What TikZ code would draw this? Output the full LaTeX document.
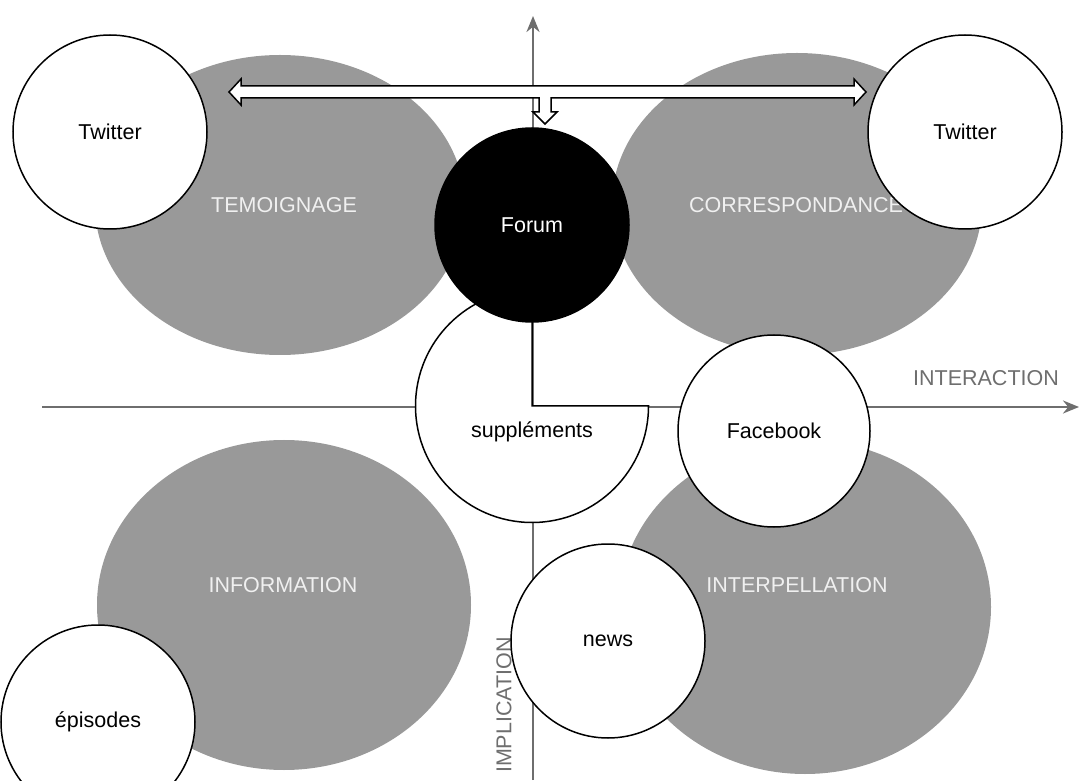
\documentclass[tikz,border=0pt]{standalone}
\usepackage{fontspec}
\setmainfont{Liberation Sans}
\usetikzlibrary{shapes.geometric,arrows.meta}
\definecolor{zonegray}{HTML}{999999}
\definecolor{axisgray}{HTML}{6E6E6E}
\begin{document}
\begin{tikzpicture}[x=1pt,y=1pt,
  every node/.style={font=\fontsize{21.5}{25}\selectfont},
  zone/.style={ellipse,fill=zonegray,inner sep=0pt},
  zonelabel/.style={text=white!94!black},
  media/.style={circle,draw=black,line width=1.5pt,fill=white,minimum size=194pt,inner sep=0pt},
  axis/.style={axisgray,line width=2.5pt,-{Stealth[length=16pt,width=13pt]}}]
\useasboundingbox (0,0) rectangle (1079,780);
\node[zone,minimum width=370pt,minimum height=300pt] (temoignage) at (280,575) {};
\node[zone,minimum width=370pt,minimum height=302pt] (correspondance) at (797,576) {};
\node[zone,minimum width=374pt,minimum height=330pt] (information) at (284,175) {};
\node[zone,minimum width=372pt,minimum height=334pt] (interpellation) at (805,173) {};
\node[zonelabel] at (284,575) {TEMOIGNAGE};
\node[zonelabel] at (796,575) {CORRESPONDANCE};
\node[zonelabel] at (283,195) {INFORMATION};
\coordinate (xstart) at (42,373);
\coordinate (xend) at (1079,373);
\coordinate (ystart) at (533,0);
\coordinate (yend) at (533,764);
\draw[axis] (xstart) -- (xend);
\draw[axis] (ystart) -- (yend);
\node[text=axisgray] (interaction) at (986,402) {INTERACTION};
\node[text=axisgray,rotate=90] (implication) at (504,75) {IMPLICATION};
\draw[line width=1.5pt,fill=white] (229,688) -- (241,701) -- (241,694) -- (854,694) -- (854,701)
  -- (866,688) -- (854,675) -- (854,682) -- (551,682) -- (551,668) -- (557,668)
  -- (545,656) -- (533,668) -- (539,668) -- (539,682) -- (241,682) -- (241,675) -- cycle;
\draw[line width=1.5pt,fill=white] (532,374) -- (648.5,374)
  arc[start angle=0,end angle=-270,radius=116.5] -- cycle;
\node (supplements) at (532,348) {suppléments};
\node[media,fill=black,text=white] (forum) at (532,555) {Forum};
\node[media] (twitterA) at (110,648) {Twitter};
\node[media] (twitterB) at (965,648) {Twitter};
\node[media,minimum size=192pt] (facebook) at (774,349) {Facebook};
\node[media] (news) at (608,139) {news};
\node[media] (episodes) at (98,58) {épisodes};
\node[zonelabel] at (797,195) {INTERPELLATION};
\end{tikzpicture}
\end{document}
